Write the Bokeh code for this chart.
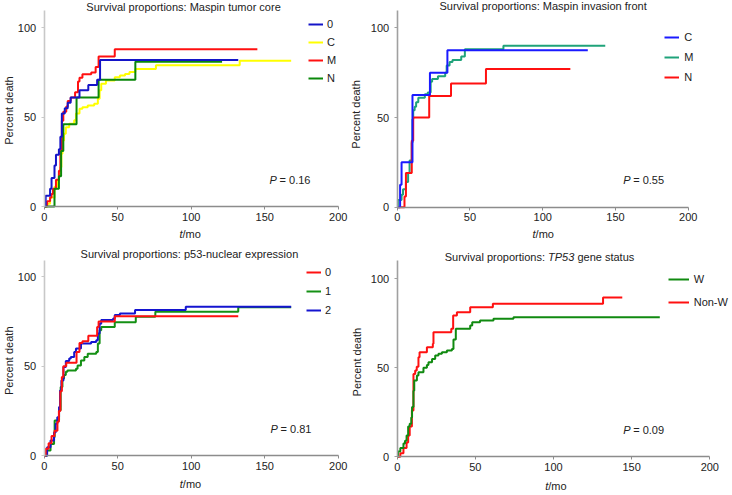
import math
from bokeh.plotting import figure
from bokeh.models import Range1d, Label, Legend, LegendItem, FixedTicker
from bokeh.layouts import column, row
from bokeh.embed import file_html
from bokeh.resources import INLINE

# ---------------- data ----------------
# Panel A: Maspin tumor core
a_0_t = [0, 1, 4, 5, 7, 8, 10, 11, 12, 14, 16, 18, 24, 30, 36, 38, 132]
a_0_v = [0, 6, 10, 16, 23, 29, 32, 39, 52, 55, 58, 61, 65, 68, 71, 82, 82]
a_C_t = [0, 2, 4, 7, 9, 10, 11, 11.7, 12.4, 13.5, 14.7, 17, 20.4, 21.6, 24, 26, 29.6, 34, 36.5, 37.7,
         38.8, 42, 48, 51.5, 55, 58, 62, 76, 133, 168]
a_C_v = [0, 1.5, 5, 11, 14.5, 18, 22, 29.5, 37, 40.7, 44.4, 46.3, 48.2, 52, 54.7, 55.6, 56.5, 57.5, 60.3, 65,
         68.7, 70.5, 72.4, 73.3, 74.2, 75.2, 77, 79, 81.5, 81.5]
a_M_t = [0, 2, 4, 5, 6, 8, 10, 11, 12, 13, 15, 16, 18, 21, 23, 24, 26, 32, 35, 37, 48, 145]
a_M_v = [0, 3, 5, 7, 10, 15, 20, 31, 48, 53, 56, 59, 61, 64, 70, 72, 74, 75, 78, 84, 88, 88]
a_N_t = [0, 7, 10, 11.5, 13, 22, 37, 62, 121]
a_N_v = [0, 10, 17, 31, 46, 61, 71, 81, 81]

# Panel B: Maspin invasion front
b_C_t = [0, 2, 3, 10.5, 22.5, 34.5, 131]
b_C_v = [0, 12.5, 25, 62.5, 75, 87.5, 87.5]
b_M_t = [0, 0.5, 3, 4, 6, 7.5, 8.5, 10, 10.5, 11, 12, 13, 14.5, 19, 21, 23, 24, 28, 33, 34, 36, 38, 44,
         46.5, 73, 143]
b_M_v = [0, 4, 7, 10, 14, 19, 26, 36, 49, 54, 56, 58.5, 61, 63, 64, 70, 71.5, 73, 75, 79, 81, 82, 84,
         88, 90, 90]
b_N_t = [0, 5, 6, 10, 11, 22, 37, 61, 119]
b_N_v = [0, 6, 19, 37, 50, 62, 69, 77, 77]

# Panel C: p53-nuclear expression
c_0_t = [0, 1, 3, 5, 7, 9, 10, 11, 12, 13, 15, 22, 24, 26, 30, 36, 37, 48, 132]
c_0_v = [0, 4, 7, 11, 14, 19, 25, 36, 44, 50, 52, 58, 63, 64, 67, 72, 75, 78, 78]
c_1_t = [0, 1.9, 4.3, 6.7, 7.1, 10.1, 11.2, 12.4, 13.5, 14.7, 15.8, 21.6, 22.7, 25, 27.3, 29.6, 35.4,
         36.5, 37.7, 38.8, 48, 62.3, 75.6, 132, 168]
c_1_v = [0, 2.9, 6.6, 10.4, 19.7, 25.4, 38.5, 43.2, 45.1, 47, 47.7, 48.7, 50.5, 53.3, 55.2, 57, 58,
         62.7, 70.2, 72, 74.6, 77.7, 80.5, 83, 83]
c_2_t = [0, 2, 4.3, 6.7, 7.8, 8.9, 10.1, 10.8, 11.7, 13.1, 14.7, 17, 18.1, 20.4, 21.6, 25, 31.9, 35.4,
         36.5, 37.7, 38.8, 46.9, 48, 51.5, 61.8, 96.3, 168]
c_2_v = [0, 4.8, 8.6, 13, 17.9, 21.6, 27.2, 36.5, 42, 49.6, 53, 54.3, 55.2, 58, 60, 62.7, 63.6, 64.6,
         68.3, 73.8, 75.8, 76.7, 78.6, 79.5, 81.4, 83.3, 83.3]

# Panel D: TP53 gene status
d_W_t = [0, 0.5, 2, 4, 5, 6, 7, 8, 9, 9.5, 10.4, 10.9, 12.6, 13.6, 16.8, 19, 20, 22.3, 24.3, 26.4, 28.6,
         31.8, 35, 36, 37.5, 46.7, 48, 53, 61.6, 74.4, 168]
d_W_v = [0, 3, 5, 7.5, 9, 12, 17, 18.5, 22, 28, 37, 42.8, 45.6, 47.4, 49.9, 51.5, 53, 54.9, 56.8, 57.8,
         58.7, 59.6, 60.5, 65.8, 71.8, 73.6, 75.5, 76.4, 77.4, 78.3, 78.3]
d_NW_t = [0, 2, 4, 6, 7, 8, 9.4, 10.4, 11.5, 12.5, 13.6, 14.3, 19, 22.8, 23.2, 34.6, 35.8, 38.2, 46.7,
          61.2, 131.7, 144]
d_NW_v = [0, 2, 5, 8, 12, 17, 26, 46.5, 48.4, 50.5, 55.9, 58.7, 61.5, 63.4, 69.9, 71.8, 79.2, 81.1,
          83.9, 85.8, 89.4, 89.4]

x_ticks = [0, 50, 100, 150, 200]
y_ticks = [0, 50, 100]
p_values = ["0.16", "0.55", "0.81", "0.09"]

FONT = "Liberation Sans"
TXT = "#222222"
FS = "11px"


def make_fig(width, height, xr, yr, ytop, yaxis_color):
    p = figure(width=width, height=height, x_range=Range1d(*xr), y_range=Range1d(*yr),
               output_backend="svg", toolbar_location=None, title=None, min_border=0)
    p.outline_line_color = None
    p.xgrid.grid_line_color = None
    p.ygrid.grid_line_color = None
    p.xaxis.ticker = FixedTicker(ticks=x_ticks)
    p.yaxis.ticker = FixedTicker(ticks=y_ticks)
    p.xaxis.fixed_location = 0
    p.yaxis.fixed_location = 0
    p.xaxis.bounds = (0, 200)
    p.yaxis.bounds = (0, ytop)
    for ax in p.axis:
        ax.major_label_text_font = FONT
        ax.major_label_text_font_size = FS
        ax.major_label_text_color = TXT
        ax.minor_tick_line_color = None
        ax.major_tick_in = 0
        ax.major_tick_out = 3
    p.xaxis.axis_line_color = "#8c8c8c"
    p.xaxis.major_tick_line_color = "#8c8c8c"
    p.xaxis.axis_line_width = 1.3
    p.xaxis.major_label_standoff = 3
    p.yaxis.axis_line_color = yaxis_color
    p.yaxis.major_tick_line_color = yaxis_color
    p.yaxis.axis_line_width = 1.6
    p.yaxis.major_label_standoff = 5
    return p


def txt(p, x, y, text, align="left", italic=False, angle=0.0, xoff=0):
    p.add_layout(Label(x=x, y=y, text=text, text_font=FONT, text_font_size=FS,
                       text_color=TXT, text_align=align, text_baseline="middle",
                       text_font_style="italic" if italic else "normal",
                       angle=angle, x_offset=xoff))


def decorate(p, series, leg_loc, leg_spacing, glyph_w, standoff, pl_xy, pval,
             ylab_xy, xlab_xy, top_name=None):
    rends = {}
    for name, t, v, color in series:
        if name != top_name:
            rends[name] = p.step(t, v, mode="after", line_color=color, line_width=2)
    for name, t, v, color in series:
        if name == top_name:
            rends[name] = p.step(t, v, mode="after", line_color=color, line_width=2)
    items = [LegendItem(label=name, renderers=[rends[name]]) for name, _, _, _ in series]
    leg = Legend(items=items, location=leg_loc, glyph_width=glyph_w, glyph_height=16,
                 label_height=16, spacing=leg_spacing, padding=0, margin=0,
                 border_line_color=None, background_fill_alpha=0,
                 label_text_font=FONT, label_text_font_size=FS, label_text_color=TXT,
                 label_standoff=standoff)
    p.add_layout(leg)
    txt(p, pl_xy[0], pl_xy[1], "P", italic=True)
    txt(p, pl_xy[0], pl_xy[1], "= " + pval, xoff=10)
    txt(p, ylab_xy[0], ylab_xy[1], "Percent death", align="center", angle=math.pi / 2)
    txt(p, xlab_xy[0], xlab_xy[1], "t", align="right", italic=True)
    txt(p, xlab_xy[0], xlab_xy[1], "/mo", align="left")


# Panel A  (canvas page x 0..348, y 0..247)
pa = make_fig(348, 247, (-29.73, 207.0), (-22.94, 115.28), 109.7, "#c8c8c8")
decorate(pa, [("0", a_0_t, a_0_v, "#1414c8"), ("C", a_C_t, a_C_v, "#ffff00"),
              ("M", a_M_t, a_M_v, "#ff1010"), ("N", a_N_t, a_N_v, "#0a880a")],
         (308, 161), 2, 15, 4, (153.3, 15.1), p_values[0], (-24.1, 53.7), (94.1, -15.3),
         top_name="0")
txt(pa, 94.8, 111.9, "Survival proportions: Maspin tumor core", align="center")

# Panel B  (canvas page x 348..731, y 0..247)
pb = make_fig(383, 247, (-33.47, 229.76), (-22.46, 115.22), 109.6, "#a0a0a0")
decorate(pb, [("C", b_C_t, b_C_v, "#1a1aff"), ("M", b_M_t, b_M_v, "#1fa37a"),
              ("N", b_N_t, b_N_v, "#ff1010")],
         (316.3, 162.3), 4, 15, 5, (155.3, 15.4), p_values[1], (-28.0, 51.7), (95.1, -14.8),
         top_name="C")
txt(pb, 100.3, 111.9, "Survival proportions: Maspin invasion front", align="center")

# Panel C  (canvas page x 0..348, y 247..494)
pc = make_fig(348, 247, (-29.73, 207.0), (-21.62, 116.37), 108.9, "#c8c8c8")
decorate(pc, [("0", c_0_t, c_0_v, "#ff1010"), ("1", c_1_t, c_1_v, "#149014"),
              ("2", c_2_t, c_2_v, "#1414d0")],
         (306, 175.7), 3, 15, 4, (154.0, 14.9), p_values[2], (-24.1, 53.1), (94.3, -15.9),
         top_name="0")
txt(pc, 98.8, 112.5, "Survival proportions: p53-nuclear expression", align="center")

# Panel D  (canvas page x 348..731, y 247..494)
pd_ = make_fig(383, 247, (-31.16, 213.88), (-21.14, 117.39), 109.9, "#a0a0a0")
decorate(pd_, [("W", d_W_t, d_W_v, "#108a10"), ("Non-W", d_NW_t, d_NW_v, "#ff1010")],
         (319.7, 184.3), 7, 21, 5, (144.6, 14.9), p_values[3], (-25.8, 53.1), (96.6, -16.1),
         top_name="W")
txt(pd_, 30.4, 112.2, "Survival proportions: ")
txt(pd_, 30.4, 112.2, "TP53", italic=True, xoff=103.3)
txt(pd_, 30.4, 112.2, "gene status", xoff=132.7)

layout = column(row(pa, pb), row(pc, pd_))

open("out.html", "w").write(file_html(layout, INLINE))
